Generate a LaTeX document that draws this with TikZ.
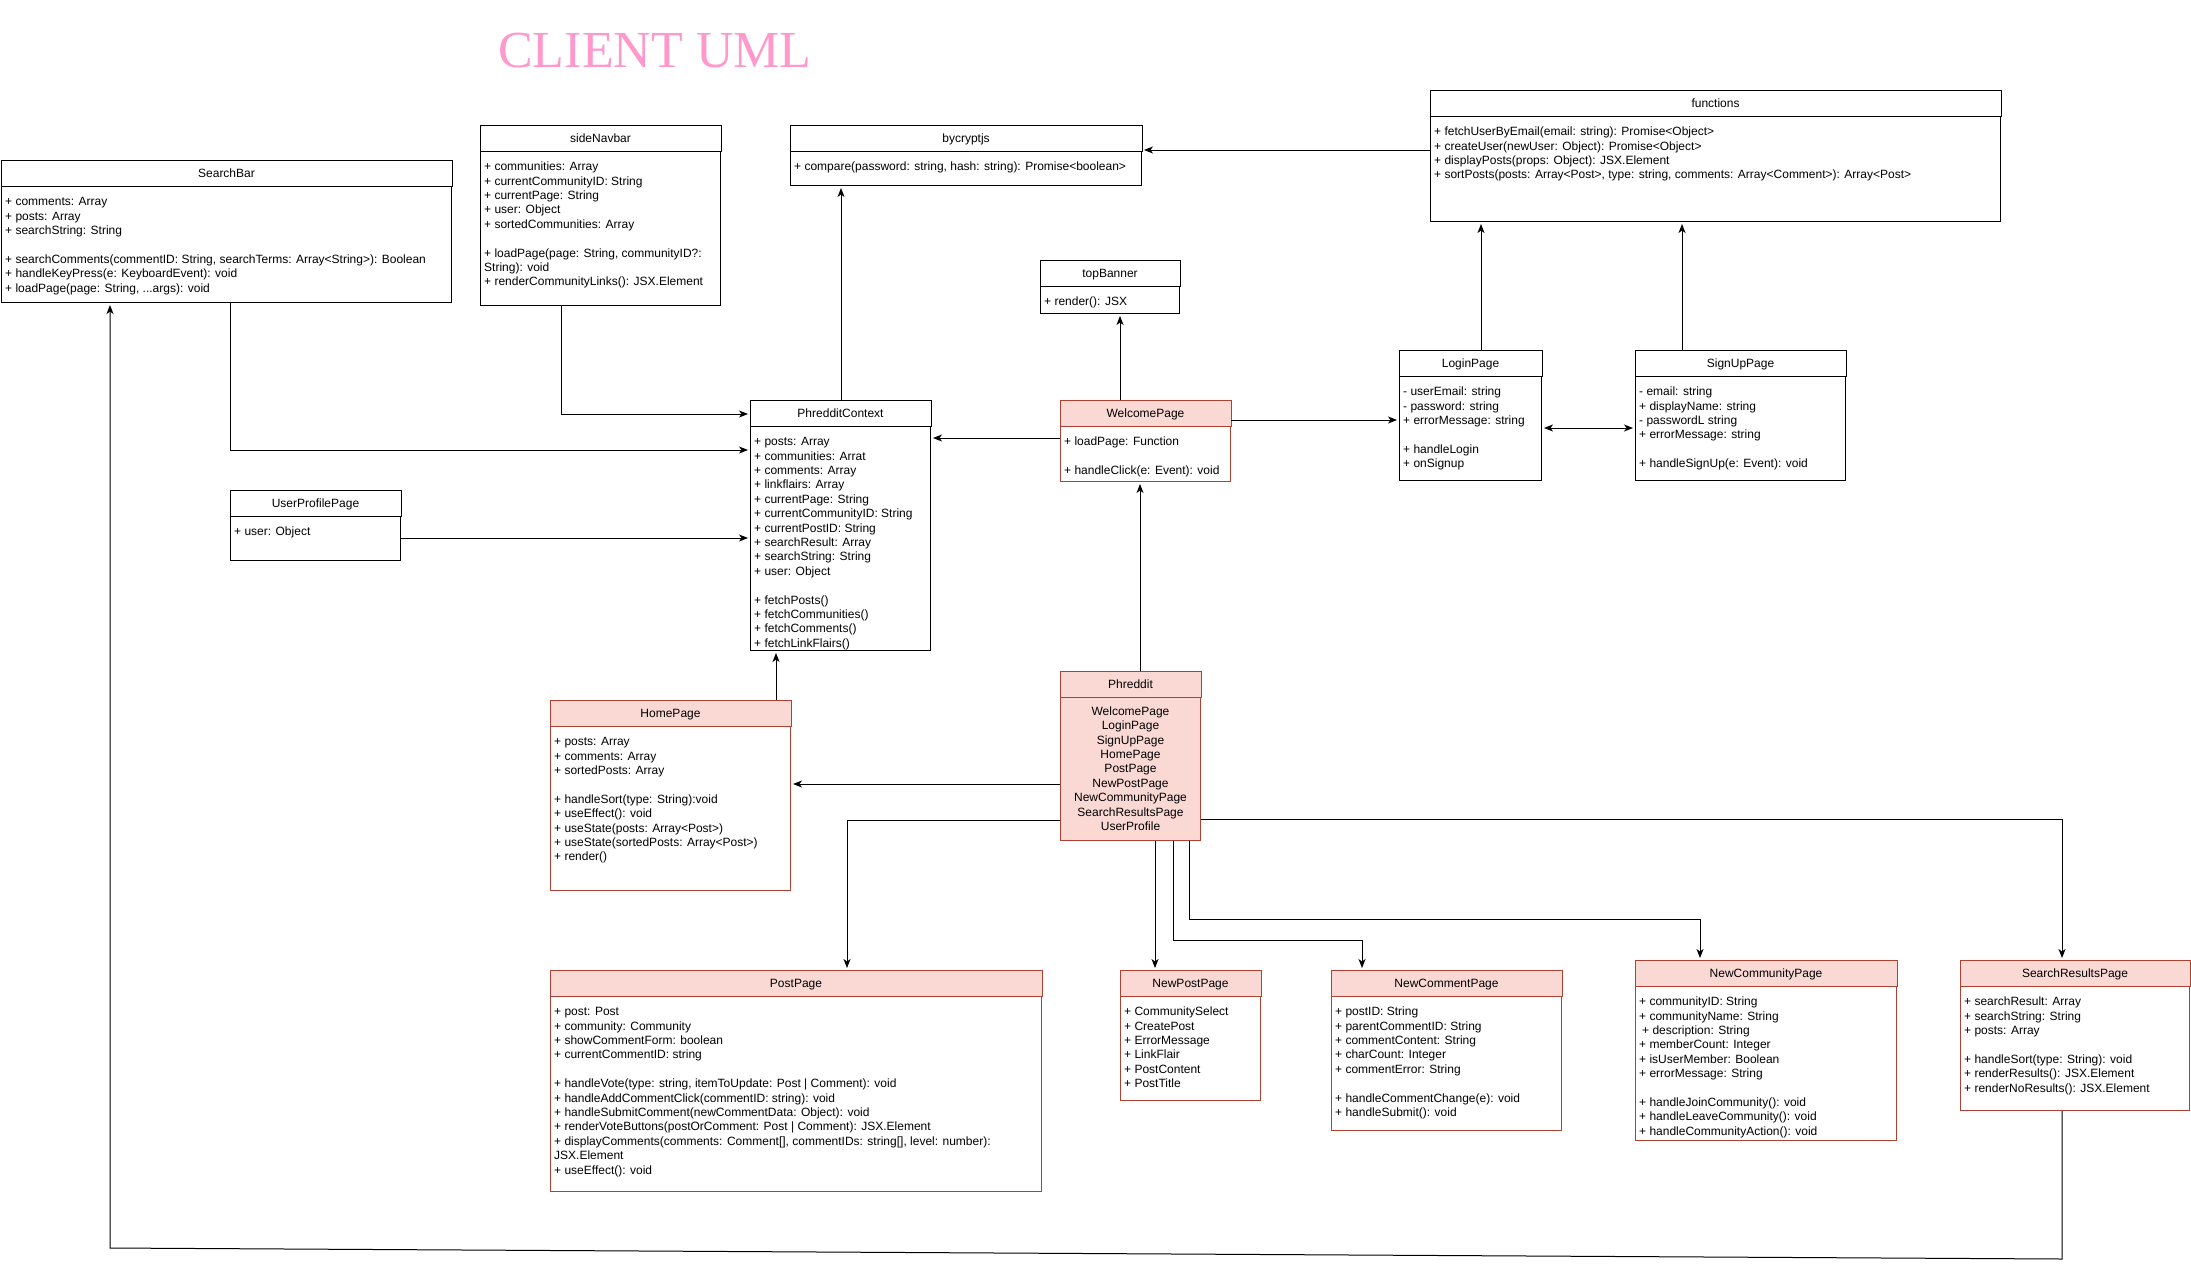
\documentclass[tikz,border=0pt]{standalone}
\usepackage{fontspec}
\setmainfont{Liberation Sans}
\newfontfamily\titlefont{Liberation Serif}
\usetikzlibrary{arrows.meta}
\definecolor{umlred}{HTML}{AE4132}
\definecolor{umlpink}{HTML}{FAD9D5}
\definecolor{titlepink}{HTML}{FF99CC}
\tikzset{
  umlbox/.style = {draw = black, fill = white, line width = 1pt, inner sep = 0pt, anchor = north west},
  umlbox head/.style = {draw = black, fill = white, line width = 1pt},
  pinkbox/.style = {umlbox, draw = umlred},
  pinkbox head/.style = {draw = umlred, fill = umlpink, line width = 1pt},
  phredditbox/.style = {pinkbox, fill = umlpink},
  phredditbox head/.style = {pinkbox head},
  classtitle/.style = {inner sep = 0pt, text height = 8.6pt, text depth = 0pt, font = \fontsize{12}{14.4}\selectfont},
  classbody/.style = {inner sep = 0pt, anchor = north west, align = left, font = \fontsize{12}{14.4}\selectfont},
  link/.style = {draw = black, line width = 1pt},
  arr/.style = {link, -{Stealth[length = 9pt, width = 7pt, inset = 2.5pt]}, shorten > = 2pt},
  dblarr/.style = {link, {Stealth[length = 9pt, width = 7pt, inset = 2.5pt]}-{Stealth[length = 9pt, width = 7pt, inset = 2.5pt]}, shorten > = 2pt, shorten < = 2pt}
}
\newcommand{\classbox}[8][umlbox]{
\node[#1, minimum width = #5, minimum height = #6] (#2) at (#3,#4) {};
\draw[#1 head] (#2.north west) rectangle ([yshift = -\headh]#2.north east);
\node[classtitle] (#2-name) at ([yshift = -\headh/2]#2.north) {#7};
\node[classbody] (#2-text) at ([xshift = 4pt, yshift = -\headh-9.5pt]#2.north west) {\rule{0pt}{10pt}#8};
}
\begin{document}
\begin{tikzpicture}[x = 1pt, y = -1pt]
\pgfmathsetlengthmacro\headh{26};
\fill[white] (0,0) rectangle (2191,1269);
\useasboundingbox (0,0) rectangle (2191,1269);
\node[text = titlepink, inner sep = 0pt, text height = 34pt, text depth = 0pt, font = \titlefont\fontsize{52}{62}\selectfont] (heading) at (655,50.5) {CLIENT UML};
\classbox{searchbar}{1}{160}{450}{142}{SearchBar}{+ comments: Array\\+ posts: Array\\+ searchString: String\\[14.4pt]+ searchComments(commentID: String, searchTerms: Array<String>): Boolean\\+ handleKeyPress(e: KeyboardEvent): void\\+ loadPage(page: String, ...args): void}
\classbox{sidenav}{480}{125}{240}{180}{sideNavbar}{+ communities: Array\\+ currentCommunityID: String\\+ currentPage: String\\+ user: Object\\+ sortedCommunities: Array\\[14.4pt]+ loadPage(page: String, communityID?:\\String): void\\+ renderCommunityLinks(): JSX.Element}
\classbox{bycrypt}{790}{125}{351}{60}{bycryptjs}{+ compare(password: string, hash: string): Promise<boolean>}
\classbox{functions}{1430}{90}{570}{131}{functions}{+ fetchUserByEmail(email: string): Promise<Object>\\+ createUser(newUser: Object): Promise<Object>\\+ displayPosts(props: Object): JSX.Element\\+ sortPosts(posts: Array<Post>, type: string, comments: Array<Comment>): Array<Post>}
\classbox{topbanner}{1040}{260}{139}{53}{topBanner}{+ render(): JSX}
\classbox{login}{1399}{350}{142}{130}{LoginPage}{- userEmail: string\\- password: string\\+ errorMessage: string\\[14.4pt]+ handleLogin\\+ onSignup}
\classbox{signup}{1635}{350}{210}{130}{SignUpPage}{- email: string\\+ displayName: string\\- passwordL string\\+ errorMessage: string\\[14.4pt]+ handleSignUp(e: Event): void}
\classbox{context}{750}{400}{180}{250}{PhredditContext}{+ posts: Array\\+ communities: Arrat\\+ comments: Array\\+ linkflairs: Array\\+ currentPage: String\\+ currentCommunityID: String\\+ currentPostID: String\\+ searchResult: Array\\+ searchString: String\\+ user: Object\\[14.4pt]+ fetchPosts()\\+ fetchCommunities()\\+ fetchComments()\\+ fetchLinkFlairs()}
\classbox[pinkbox]{welcome}{1060}{400}{170}{81}{WelcomePage}{+ loadPage: Function\\[14.4pt]+ handleClick(e: Event): void}
\classbox{userprofile}{230}{490}{170}{70}{UserProfilePage}{+ user: Object}
\classbox[pinkbox]{homepage}{550}{700}{240}{190}{HomePage}{+ posts: Array\\+ comments: Array\\+ sortedPosts: Array\\[14.4pt]+ handleSort(type: String):void\\+ useEffect(): void\\+ useState(posts: Array<Post>)\\+ useState(sortedPosts: Array<Post>)\\+ render()}
\classbox[phredditbox]{phreddit}{1060}{671}{140}{169}{Phreddit}{}
\node[classbody, anchor = north, align = center] (phreddit-list) at ([yshift = -\headh-8pt]phreddit.north) {\rule{0pt}{10pt}WelcomePage\\LoginPage\\SignUpPage\\HomePage\\PostPage\\NewPostPage\\NewCommunityPage\\SearchResultsPage\\UserProfile};
\classbox[pinkbox]{postpage}{550}{970}{491}{221}{PostPage}{+ post: Post\\+ community: Community\\+ showCommentForm: boolean\\+ currentCommentID: string\\[14.4pt]+ handleVote(type: string, itemToUpdate: Post | Comment): void\\+ handleAddCommentClick(commentID: string): void\\+ handleSubmitComment(newCommentData: Object): void\\+ renderVoteButtons(postOrComment: Post | Comment): JSX.Element\\+ displayComments(comments: Comment[], commentIDs: string[], level: number):\\JSX.Element\\+ useEffect(): void}
\classbox[pinkbox]{newpost}{1120}{970}{140}{130}{NewPostPage}{+ CommunitySelect\\+ CreatePost\\+ ErrorMessage\\+ LinkFlair\\+ PostContent\\+ PostTitle}
\classbox[pinkbox]{newcomment}{1331}{970}{230}{160}{NewCommentPage}{+ postID: String\\+ parentCommentID: String\\+ commentContent: String\\+ charCount: Integer\\+ commentError: String\\[14.4pt]+ handleCommentChange(e): void\\+ handleSubmit(): void}
\classbox[pinkbox]{newcommunity}{1635}{960}{261}{180}{NewCommunityPage}{+ communityID: String\\+ communityName: String\\\hspace{3pt}+ description: String\\+ memberCount: Integer\\+ isUserMember: Boolean\\+ errorMessage: String\\[14.4pt]+ handleJoinCommunity(): void\\+ handleLeaveCommunity(): void\\+ handleCommunityAction(): void}
\classbox[pinkbox]{results}{1960}{960}{229}{150}{SearchResultsPage}{+ searchResult: Array\\+ searchString: String\\+ posts: Array\\[14.4pt]+ handleSort(type: String): void\\+ renderResults(): JSX.Element\\+ renderNoResults(): JSX.Element}
\coordinate (commentbend) at (1362,940);
\coordinate (communitybend) at (1700,919);
\coordinate (loopright) at (2062,1259);
\coordinate (loopleft) at (110,1248);
\draw[arr] (functions.west |- 0,150) -- (bycrypt.east |- 0,150);
\draw[arr] (context.north -| 841,0) -- (bycrypt.south -| 841,0);
\draw[arr] (welcome.north -| 1120,0) -- (topbanner.south -| 1120,0);
\draw[arr] (welcome.east |- 0,420) -- (login.west |- 0,420);
\draw[dblarr] (login.east |- 0,428) -- (signup.west |- 0,428);
\draw[arr] (login.north -| 1481,0) -- (functions.south -| 1481,0);
\draw[arr] (signup.north -| 1682,0) -- (functions.south -| 1682,0);
\draw[arr] (welcome.west |- 0,438) -- (context.east |- 0,438);
\draw[arr] (phreddit.north -| 1140,0) -- (welcome.south -| 1140,0);
\draw[arr] (sidenav.south -| 561,0) |- (context.west |- 0,414);
\draw[arr] (searchbar.south -| 230,0) |- (context.west |- 0,450);
\draw[arr] (userprofile.east |- 0,538) -- (context.west |- 0,538);
\draw[arr] (homepage.north -| 776,0) -- (context.south -| 776,0);
\draw[arr] (phreddit.west |- 0,784) -- (homepage.east |- 0,784);
\draw[arr] (phreddit.west |- 0,820) -| (postpage.north -| 847,0);
\draw[arr] (phreddit.south -| 1155,0) -- (newpost.north -| 1155,0);
\draw[arr] (phreddit.south -| 1173,0) |- (commentbend) -- (newcomment.north -| commentbend);
\draw[arr] (phreddit.south -| 1189,0) |- (communitybend) -- (newcommunity.north -| communitybend);
\draw[arr] (phreddit.east |- 0,819) -| (results.north -| 2062,0);
\draw[arr] (results.south -| loopright) -- (loopright) -- (loopleft) -- (searchbar.south -| loopleft);
\end{tikzpicture}
\end{document}
